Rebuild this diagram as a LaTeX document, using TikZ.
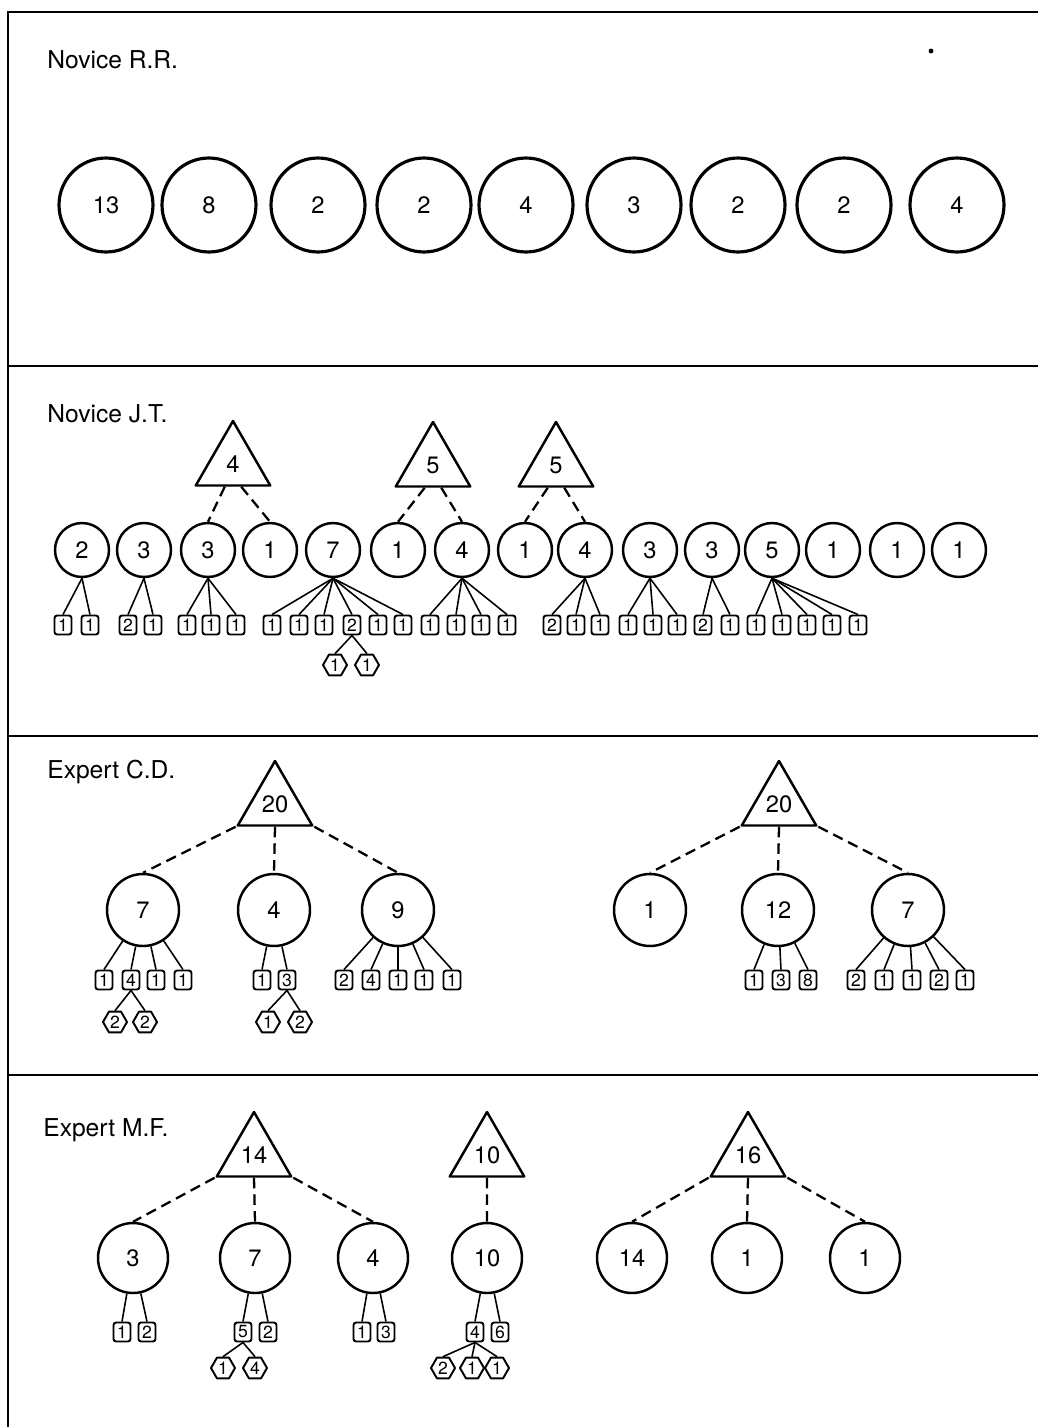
\documentclass[tikz,border=0pt]{standalone}
\usepackage{fontspec}
\setmainfont{TeX Gyre Heros}
\usetikzlibrary{shapes.geometric}

\begin{document}
\begin{tikzpicture}[x=0.02cm,y=-0.02cm,
  lbl/.style={anchor=west,inner sep=0pt,font=\fontsize{14}{14}\selectfont},
  big/.style={draw,circle,line width=1.8pt,minimum size=1.88cm,inner sep=0pt,font=\fontsize{13.5}{13.5}\selectfont},
  ball/.style={draw,circle,line width=1.4pt,minimum size=#1,inner sep=0pt,font=\fontsize{13.5}{13.5}\selectfont},
  tri/.style={draw,regular polygon,regular polygon sides=3,minimum size=1.72cm,inner sep=0pt,line width=1.4pt,line join=round,font=\fontsize{13.5}{13.5}\selectfont},
  sq/.style={draw,rectangle,rounded corners=1.5pt,minimum width=0.34cm,minimum height=0.38cm,inner sep=0pt,line width=1.1pt,font=\fontsize{10}{10}\selectfont},
  hex/.style={draw,regular polygon,regular polygon sides=6,minimum size=0.48cm,inner sep=0pt,line width=1.1pt,line join=round,font=\fontsize{10}{10}\selectfont},
  link/.style={line width=0.9pt},
  dlink/.style={line width=1.3pt,dash pattern=on 6pt off 3.5pt}]
  \useasboundingbox (0,0) rectangle (1038,1427);
  \draw[line width=1.5pt] (1038,12) -- (8,12) -- (8,1427);
  \draw[line width=1.5pt] (8,366) -- (1038,366);
  \draw[line width=1.5pt] (8,736) -- (1038,736);
  \draw[line width=1.5pt] (8,1075) -- (1038,1075);
%%% Novice R.R.
  \node[lbl] (rrlabel) at (47,60) {Novice R.R.};
  \fill (931,51) circle (1.4pt);
  \foreach \n/\x/\v in {1/106/13,2/209/8,3/318/2,4/424/2,5/526/4,6/634/3,7/738/2,8/844/2,9/957/4}
    \node[big] (rr\n) at (\x,205) {\v};
%%% Novice J.T.
  \node[lbl] (jtlabel) at (47,414) {Novice J.T.};
  \foreach \n/\x/\v in {1/82/2,2/144/3,3/208/3,4/270/1,5/333/7,6/398/1,7/462/4,8/525/1,
                        9/585/4,10/650/3,11/712/3,12/772/5,13/833/1,14/897/1,15/959/1}
    \node[ball=1.08cm] (jt\n) at (\x,550) {\v};
  \node[tri] (jtA) at (233,464) {4};
  \node[tri] (jtB) at (433,465) {5};
  \node[tri] (jtC) at (556,465) {5};
  \draw[dlink] (jtA.250) -- (jt3.north);
  \draw[dlink] (jtA.290) -- (jt4.north);
  \draw[dlink] (jtB.250) -- (jt6.north);
  \draw[dlink] (jtB.290) -- (jt7.north);
  \draw[dlink] (jtC.250) -- (jt8.north);
  \draw[dlink] (jtC.290) -- (jt9.north);
%%%
  \foreach \s/\x/\v in {a/63/1,b/90/1} {
    \node[sq] (jt1\s) at (\x,625) {\v};
    \draw[link] (jt1.south) -- (jt1\s.north);
  }
  \foreach \s/\x/\v in {a/128/2,b/153/1} {
    \node[sq] (jt2\s) at (\x,625) {\v};
    \draw[link] (jt2.south) -- (jt2\s.north);
  }
  \foreach \s/\x/\v in {a/187/1,b/211/1,c/236/1} {
    \node[sq] (jt3\s) at (\x,625) {\v};
    \draw[link] (jt3.south) -- (jt3\s.north);
  }
  \foreach \s/\x/\v in {a/272/1,b/299/1,c/324/1,d/352/2,e/378/1,f/403/1} {
    \node[sq] (jt5\s) at (\x,625) {\v};
    \draw[link] (jt5.south) -- (jt5\s.north);
  }
  \foreach \s/\x/\v in {a/335/1,b/367/1} {
    \node[hex] (jt5d\s) at (\x,665) {\v};
    \draw[link] (jt5d.south) -- (jt5d\s.north);
  }
  \foreach \s/\x/\v in {a/430/1,b/456/1,c/481/1,d/507/1} {
    \node[sq] (jt7\s) at (\x,625) {\v};
    \draw[link] (jt7.south) -- (jt7\s.north);
  }
  \foreach \s/\x/\v in {a/552/2,b/576/1,c/600/1} {
    \node[sq] (jt9\s) at (\x,625) {\v};
    \draw[link] (jt9.south) -- (jt9\s.north);
  }
  \foreach \s/\x/\v in {a/628/1,b/653/1,c/677/1} {
    \node[sq] (jt10\s) at (\x,625) {\v};
    \draw[link] (jt10.south) -- (jt10\s.north);
  }
  \foreach \s/\x/\v in {a/703/2,b/730/1} {
    \node[sq] (jt11\s) at (\x,625) {\v};
    \draw[link] (jt11.south) -- (jt11\s.north);
  }
  \foreach \s/\x/\v in {a/756/1,b/782/1,c/807/1,d/832/1,e/858/1} {
    \node[sq] (jt12\s) at (\x,625) {\v};
    \draw[link] (jt12.south) -- (jt12\s.north);
  }
%%% Expert C.D.
  \node[lbl] (cdlabel) at (47,772) {Expert C.D.};
  \node[tri] (cdA) at (275,804) {20};
  \node[tri] (cdB) at (779,804) {20};
  \foreach \n/\x/\v in {1/143/7,2/274/4,3/398/9,4/650/1,5/778/12,6/908/7}
    \node[ball=1.44cm] (cd\n) at (\x,910) {\v};
  \draw[dlink] (cdA.corner 2) -- (cd1.north);
  \draw[dlink] (cdA.south) -- (cd2.north);
  \draw[dlink] (cdA.corner 3) -- (cd3.north);
  \draw[dlink] (cdB.corner 2) -- (cd4.north);
  \draw[dlink] (cdB.south) -- (cd5.north);
  \draw[dlink] (cdB.corner 3) -- (cd6.north);
%%%
  \foreach \s/\x/\v in {a/104/1,b/131/4,c/156/1,d/183/1} {
    \node[sq] (cd1\s) at (\x,980) {\v};
    \draw[link] (cd1) -- (cd1\s.north);
  }
  \foreach \s/\x/\v in {a/115/2,b/145/2} {
    \node[hex] (cd1b\s) at (\x,1022) {\v};
    \draw[link] (cd1b.south) -- (cd1b\s.north);
  }
  \foreach \s/\x/\v in {a/262/1,b/287/3} {
    \node[sq] (cd2\s) at (\x,980) {\v};
    \draw[link] (cd2) -- (cd2\s.north);
  }
  \foreach \s/\x/\v in {a/268/1,b/300/2} {
    \node[hex] (cd2b\s) at (\x,1022) {\v};
    \draw[link] (cd2b.south) -- (cd2b\s.north);
  }
  \foreach \s/\x/\v in {a/344/2,b/371/4,c/398/1,d/424/1,e/452/1} {
    \node[sq] (cd3\s) at (\x,980) {\v};
    \draw[link] (cd3) -- (cd3\s.north);
  }
  \foreach \s/\x/\v in {a/754/1,b/781/3,c/808/8} {
    \node[sq] (cd5\s) at (\x,980) {\v};
    \draw[link] (cd5) -- (cd5\s.north);
  }
  \foreach \s/\x/\v in {a/856/2,b/884/1,c/912/1,d/939/2,e/965/1} {
    \node[sq] (cd6\s) at (\x,980) {\v};
    \draw[link] (cd6) -- (cd6\s.north);
  }
%%% Expert M.F.
  \node[lbl] (mflabel) at (43,1130) {Expert M.F.};
  \node[tri] (mfA) at (254,1155) {14};
  \node[tri] (mfB) at (487,1155) {10};
  \node[tri] (mfC) at (748,1155) {16};
  \foreach \n/\x/\v in {1/133/3,2/255/7,3/373/4,4/487/10,5/632/14,6/747/1,7/865/1}
    \node[ball=1.4cm] (mf\n) at (\x,1258) {\v};
  \draw[dlink] (mfA.corner 2) -- (mf1.north);
  \draw[dlink] (mfA.south) -- (mf2.north);
  \draw[dlink] (mfA.corner 3) -- (mf3.north);
  \draw[dlink] (mfB.south) -- (mf4.north);
  \draw[dlink] (mfC.corner 2) -- (mf5.north);
  \draw[dlink] (mfC.south) -- (mf6.north);
  \draw[dlink] (mfC.corner 3) -- (mf7.north);
%%%
  \foreach \s/\x/\v in {a/122/1,b/147/2} {
    \node[sq] (mf1\s) at (\x,1332) {\v};
    \draw[link] (mf1) -- (mf1\s.north);
  }
  \foreach \s/\x/\v in {a/243/5,b/268/2} {
    \node[sq] (mf2\s) at (\x,1332) {\v};
    \draw[link] (mf2) -- (mf2\s.north);
  }
  \foreach \s/\x/\v in {a/223/1,b/255/4} {
    \node[hex] (mf2a\s) at (\x,1368) {\v};
    \draw[link] (mf2a.south) -- (mf2a\s.north);
  }
  \foreach \s/\x/\v in {a/362/1,b/386/3} {
    \node[sq] (mf3\s) at (\x,1332) {\v};
    \draw[link] (mf3) -- (mf3\s.north);
  }
  \foreach \s/\x/\v in {a/475/4,b/500/6} {
    \node[sq] (mf4\s) at (\x,1332) {\v};
    \draw[link] (mf4) -- (mf4\s.north);
  }
  \foreach \s/\x/\v in {a/443/2,b/472/1,c/497/1} {
    \node[hex] (mf4a\s) at (\x,1368) {\v};
    \draw[link] (mf4a.south) -- (mf4a\s.north);
  }
\end{tikzpicture}
\end{document}
